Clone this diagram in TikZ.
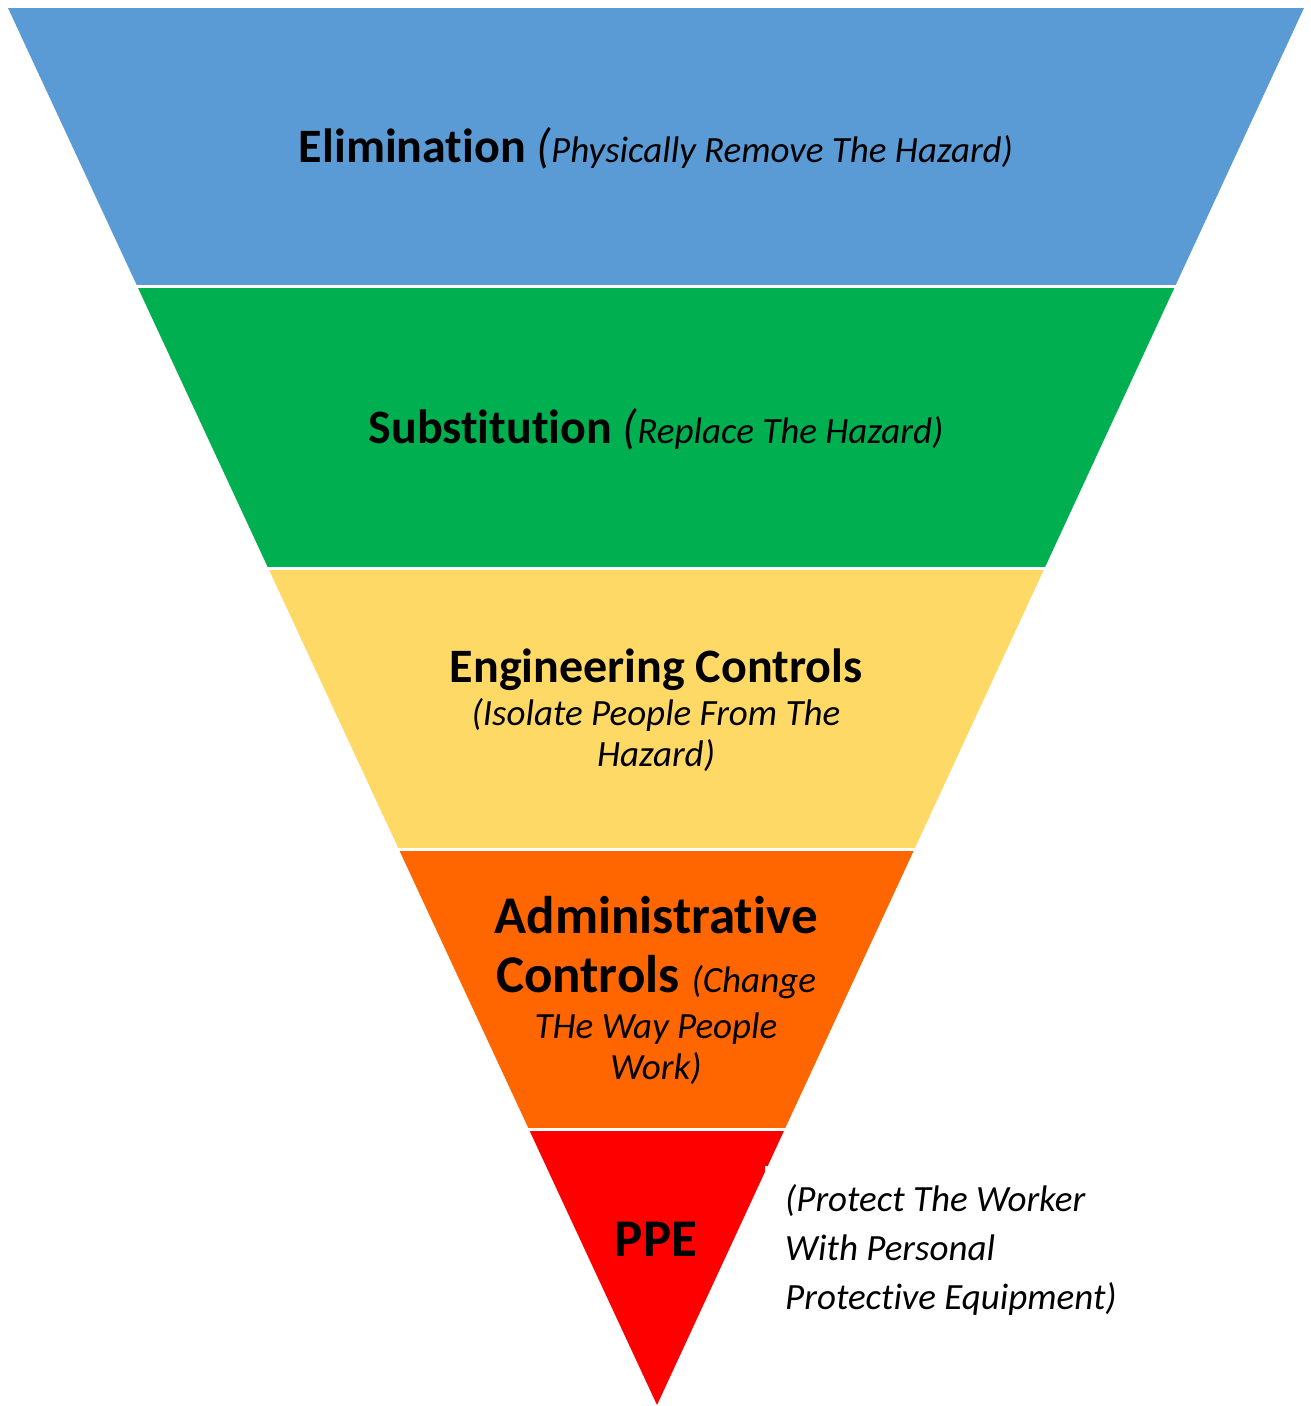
\documentclass[tikz,border=0pt]{standalone}
\usepackage{fontspec}
\setmainfont{Carlito}[Ligatures=NoCommon]
\usetikzlibrary{calc}
\definecolor{hoc_blue}{RGB}{91, 155, 213}
\definecolor{hoc_green}{RGB}{0, 176, 80}
\definecolor{hoc_yellow}{RGB}{255, 217, 102}
\definecolor{hoc_orange}{RGB}{255, 102, 0}
\definecolor{hoc_red}{RGB}{255, 0, 0}
\newcommand{\Head}{\fontsize{48}{59}\selectfont\bfseries}
\newcommand{\HeadL}{\fontsize{53}{59}\selectfont\bfseries}
\newcommand{\Note}{\fontsize{37}{41}\selectfont\itshape}
\newcommand{\Paren}{{\fontsize{48}{59}\selectfont\itshape(}}

\begin{document}
\begin{tikzpicture}[
        x=1pt, y=-1pt,
        sep/.style={draw=white, line width=3pt},
        lvl/.style={anchor=base, align=center, inner sep=0pt,
                    font=\fontsize{37}{41}\selectfont},
        side/.style={anchor=base west, align=left, fill=white,
                     inner xsep=20pt, inner ysep=18pt,
                     font=\fontsize{37}{49}\selectfont\itshape},
      ]
        \useasboundingbox (0,0) rectangle (1310,1406);
        \coordinate (tl) at (8,8);
        \coordinate (tr) at (1304,8);
        \coordinate (ap) at (657,1405);

        % bands of the inverted triangle
        \foreach \a/\b/\col in {0/0.1997/hoc_blue, 0.1997/0.4009/hoc_green,
                                0.4009/0.602/hoc_yellow, 0.602/0.8031/hoc_orange,
                                0.8031/1/hoc_red}
          \fill[\col] ($(tl)!\a!(ap)$) -- ($(tr)!\a!(ap)$)
                   -- ($(tr)!\b!(ap)$) -- ($(tl)!\b!(ap)$) -- cycle;
        \foreach \a in {0.1997, 0.4009, 0.602, 0.8031}
          \draw[sep] ($(tl)!\a!(ap)+(-4,0)$) -- ($(tr)!\a!(ap)+(4,0)$);

        \node[lvl] (elim) at (656,162)
          {{\Head Elimination }\Paren{\Note Physically Remove The Hazard)}};
        \node[lvl] (subs) at (656,443)
          {{\Head Substitution }\Paren{\Note Replace The Hazard)}};
        \node[lvl] (eng) at (656,766)
          {{\Head Engineering Controls}\\[2pt]
           {\Note (Isolate People From The}\\
           {\Note Hazard)}};
        \node[lvl] (adm) at (656,1079)
          {{\HeadL Administrative}\\[18pt]
           {\HeadL Controls }{\Note (Change}\\[5pt]
           {\Note THe Way People}\\
           {\Note Work)}};
        \node[lvl] (ppe) at (656,1256) {\HeadL PPE};

        \node[side] (ppenote) at (765,1309)
          {(Protect The Worker\\
           With Personal\\
           Protective Equipment)};
      \end{tikzpicture}
\end{document}
